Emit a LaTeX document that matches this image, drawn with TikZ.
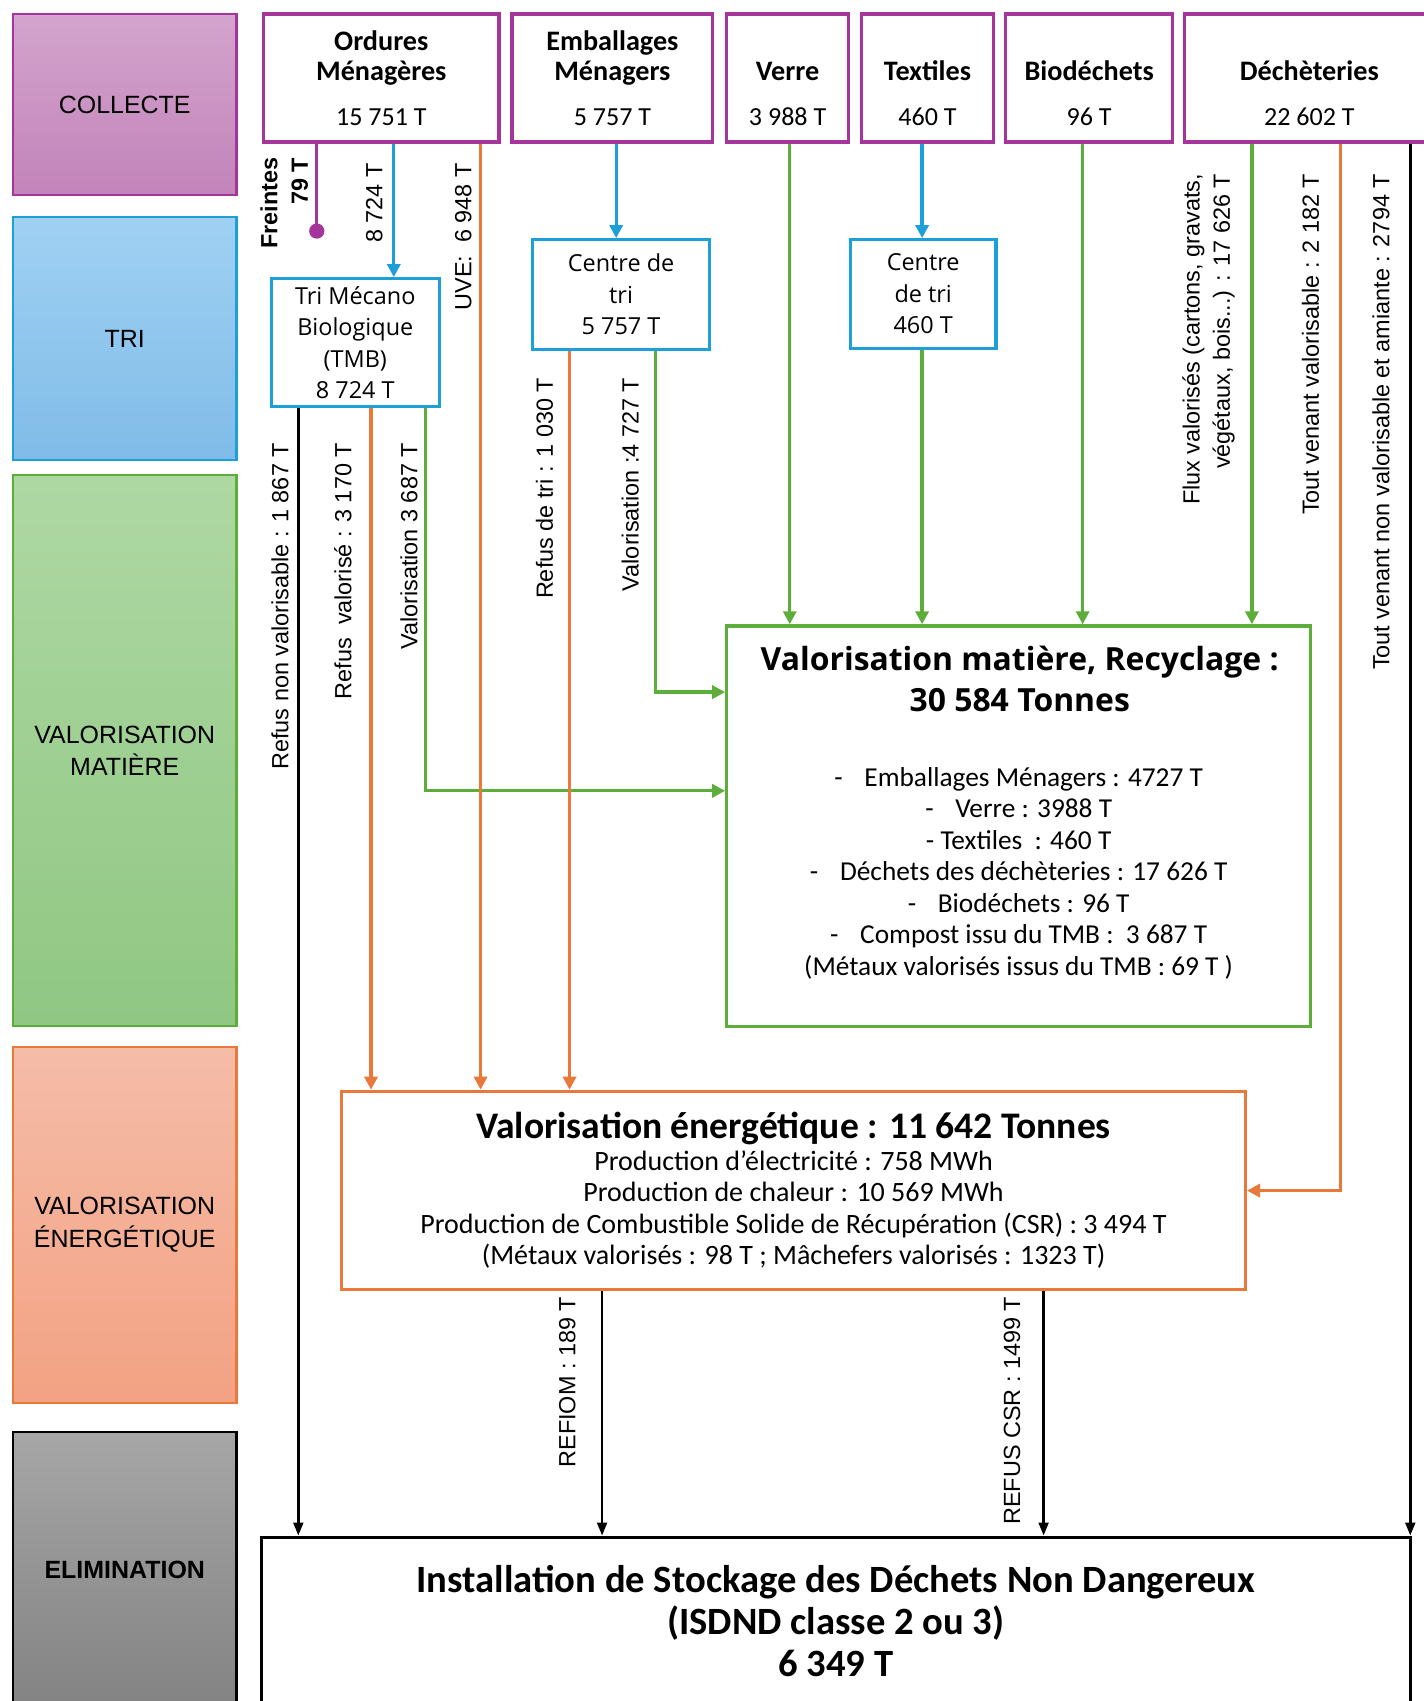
\documentclass[tikz,border=0pt]{standalone}
\usepackage{fontspec}
\setmainfont{Liberation Sans}
\newfontfamily\carl{Carlito}
\newfontfamily\osans{Open Sans}
\usetikzlibrary{arrows.meta}

\definecolor{ompurple}{RGB}{165,52,155}
\definecolor{triblue}{RGB}{28,160,215}
\definecolor{matgreen}{RGB}{92,173,58}
\definecolor{enorange}{RGB}{233,121,58}

\newcommand\topfont{\carl\bfseries\fontsize{13}{14}\selectfont}
\newcommand\topnum{\mdseries\fontsize{12}{14}\selectfont}
\newcommand\trifont{\osans\fontsize{10.8}{14.5}\selectfont}
\newcommand\bandfont{\fontsize{11.5}{15}\selectfont}
\newcommand\lblfont{\fontsize{10.8}{14}\selectfont}

\tikzset{
    band/.style = {
        draw,
        line width=1pt,
        minimum width=103pt,
        align=center,
        font=\bandfont,
        },
    source/.style = {
        draw=ompurple,
        line width=1.5pt,
        minimum height=59pt,
        align=center,
        font=\topfont,
        },
    sortbox/.style = {
        draw=triblue,
        line width=1.5pt,
        align=center,
        font=\trifont,
        },
    flow/.style = {
        line width=1.5pt,
        -{Triangle[length=6pt,width=6pt]},
        },
    rejet/.style = {
        line width=1.2pt,
        -{Triangle[length=6pt,width=4.5pt]},
        },
    lbl/.style = {
        rotate=90,
        anchor=east,
        inner sep=0pt,
        align=right,
        font=\lblfont,
        },
}

\begin{document}
\begin{tikzpicture}[x=0.5pt,y=-0.5pt]
    \useasboundingbox (0,0) rectangle (1312,1568);

    % bandes de gauche
    \node[band, draw=ompurple, top color={rgb,255:red,211;green,164;blue,205}, bottom color={rgb,255:red,194;green,131;blue,185}, minimum height=83.5pt] (collecte) at (115,96.5) {COLLECTE};
    \node[band, draw=triblue, top color={rgb,255:red,160;green,209;blue,243}, bottom color={rgb,255:red,128;green,188;blue,232}, minimum height=112pt] (tri) at (115,312) {TRI};
    \node[band, draw=matgreen, top color={rgb,255:red,174;green,216;blue,163}, bottom color={rgb,255:red,144;green,199;blue,131}, minimum height=254pt] (bandmat) at (115,692) {VALORISATION\\MATIÈRE};
    \node[band, draw=enorange, top color={rgb,255:red,245;green,188;blue,168}, bottom color={rgb,255:red,243;green,162;blue,131}, minimum height=164pt] (banden) at (115,1129) {VALORISATION\\ÉNERGÉTIQUE};
    \node[band, draw=black, top color={rgb,255:red,166;green,166;blue,166}, bottom color={rgb,255:red,131;green,131;blue,131}, minimum height=127.5pt, font=\bandfont\bfseries] (elim) at (115,1447.5) {ELIMINATION};

    % collecte
    \node[source, minimum width=108.5pt] (om) at (351.5,72) {Ordures\\Ménagères\\[6.5pt]\topnum 15 751 T};
    \node[source, minimum width=92.5pt] (emb) at (564.5,72) {Emballages\\Ménagers\\[6.5pt]\topnum 5 757 T};
    \node[source, minimum width=56pt] (verre) at (726,72) {\vphantom{Ordures}\\Verre\\[6.5pt]\topnum 3 988 T};
    \node[source, minimum width=61pt] (textile) at (855,72) {\vphantom{Ordures}\\Textiles\\[6.5pt]\topnum 460 T};
    \node[source, minimum width=77pt] (bio) at (1004,72) {\vphantom{Ordures}\\Biodéchets\\[6.5pt]\topnum 96 T};
    \node[source, minimum width=115pt] (dech) at (1207,72) {\vphantom{Ordures}\\Déchèteries\\[6.5pt]\topnum 22 602 T};

    % tri
    \node[sortbox, minimum width=77.5pt, minimum height=59pt] (tmb) at (327.5,316) {Tri Mécano\\Biologique\\(TMB)\\8 724 T};
    \node[sortbox, minimum width=81.5pt, minimum height=50.5pt] (ctemb) at (572.5,271.5) {Centre de\\tri\\5 757 T};
    \node[sortbox, minimum width=67pt, minimum height=50pt] (cttex) at (851,271) {Centre\\de tri\\460 T};

    % valorisation matiere
    \node[draw=matgreen, line width=1.5pt, minimum width=269pt, minimum height=184.5pt] (valmat) at (939,761.5) {};
    \node[font=\osans\bfseries\fontsize{14.7}{19}\selectfont, align=center] (mattitle) at (940,626) {Valorisation matière, Recyclage :\\30 584 Tonnes};
    \node[font=\carl\fontsize{12.6}{14.5}\selectfont, align=center] (matlist) at (939,805) {-\hspace{10pt}Emballages Ménagers : 4727 T\\
        -\hspace{10pt}Verre : 3988 T\\
        - Textiles\ \ : 460 T\\
        -\hspace{10pt}Déchets des déchèteries : 17 626 T\\
        -\hspace{10pt}Biodéchets : 96 T\\
        -\hspace{10pt}Compost issu du TMB :\ \ 3 687 T\\
        (Métaux valorisés issus du TMB : 69 T )};

    % valorisation energetique
    \node[draw=enorange, line width=1.5pt, minimum width=416.5pt, minimum height=91.5pt, align=center, font=\carl\fontsize{12.9}{14.5}\selectfont] (valen) at (731.5,1097.5) {{\bfseries\fontsize{17.3}{18}\selectfont Valorisation énergétique : 11 642 Tonnes}\\Production d’électricité : 758 MWh\\Production de chaleur : 10 569 MWh\\Production de Combustible Solide de Récupération (CSR) : 3 494 T\\(Métaux valorisés : 98 T ; Mâchefers valorisés : 1323 T)};

    % elimination
    \node[draw=black, line width=1.5pt, minimum width=529.5pt, minimum height=77.5pt, align=center, font=\carl\bfseries\fontsize{17.8}{19.25}\selectfont] (isdnd) at (770.5,1494.5) {Installation de Stockage des Déchets Non Dangereux\\(ISDND classe 2 ou 3)\\6 349 T};

    % flux
    \coordinate (frdot) at (292,220);
    \draw[ompurple, line width=1.5pt, -{Circle[length=7pt]}] (om.south -| 292,0) -- (frdot);
    \draw[flow, triblue] (om.south -| 363,0) -- (tmb.north -| 363,0);
    \draw[flow, triblue] (emb.south -| 568,0) -- (ctemb.north -| 568,0);
    \draw[flow, triblue] (textile.south -| 850,0) -- (cttex.north -| 850,0);

    \draw[flow, matgreen] (verre.south -| 728,0) -- (valmat.north -| 728,0);
    \draw[flow, matgreen] (cttex.south -| 850,0) -- (valmat.north -| 850,0);
    \draw[flow, matgreen] (bio.south -| 998,0) -- (valmat.north -| 998,0);
    \draw[flow, matgreen] (dech.south -| 1154,0) -- (valmat.north -| 1154,0);
    \draw[flow, matgreen] (tmb.south -| 392,0) |- (valmat.west |- 0,729);
    \draw[flow, matgreen] (ctemb.south -| 604,0) |- (valmat.west |- 0,638);

    \draw[flow, enorange] (om.south -| 443,0) -- (valen.north -| 443,0);
    \draw[flow, enorange] (tmb.south -| 342,0) -- (valen.north -| 342,0);
    \draw[flow, enorange] (ctemb.south -| 525,0) -- (valen.north -| 525,0);
    \draw[flow, enorange] (dech.south -| 1236,0) |- (valen.east);

    \draw[rejet] (tmb.south -| 275,0) -- (isdnd.north -| 275,0);
    \draw[rejet] (dech.south -| 1300,0) -- (isdnd.north -| 1300,0);
    \draw[rejet] (valen.south -| 555,0) -- (isdnd.north -| 555,0);
    \draw[rejet] (valen.south -| 962,0) -- (isdnd.north -| 962,0);

    % etiquettes
    \node[lbl, font=\lblfont\bfseries] (lfreintes) at (262,145) {Freintes\\79 T};
    \node[lbl] (ltmb) at (345,150) {8 724 T};
    \node[lbl] (luve) at (427,150) {UVE:\ \ 6 948 T};
    \node[lbl] (lnonval) at (258,408) {Refus non valorisable : 1 867 T};
    \node[lbl] (lrefval) at (316,408) {Refus\ \ valorisé : 3 170 T};
    \node[lbl] (lcompost) at (377,408) {Valorisation 3 687 T};
    \node[lbl] (lrefus) at (502,348) {Refus de tri : 1 030 T};
    \node[lbl] (lvalemb) at (581,348) {Valorisation :4 727 T};
    \node[lbl] (lflux) at (1114,160) {Flux valorisés (cartons, gravats,\\végétaux, bois...) : 17 626 T};
    \node[lbl] (ltvval) at (1208,160) {Tout venant valorisable : 2 182 T};
    \node[lbl] (ltvnon) at (1273,160) {Tout venant non valorisable et amiante : 2794 T};
    \node[lbl] (lrefiom) at (523,1195) {REFIOM : 189 T};
    \node[lbl] (lcsr) at (933,1195) {REFUS CSR : 1499 T};
\end{tikzpicture}
\end{document}
